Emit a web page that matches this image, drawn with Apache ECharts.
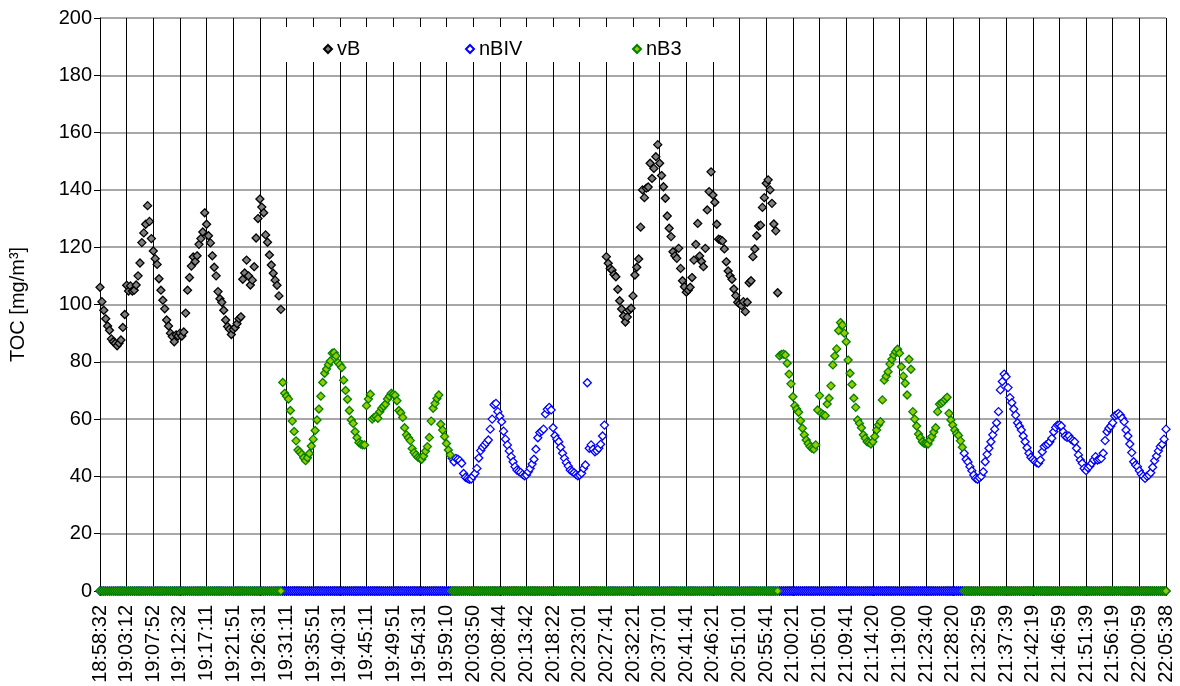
<!DOCTYPE html>
<html>
<head>
<meta charset="utf-8">
<script src="https://cdn.jsdelivr.net/npm/echarts@6/dist/echarts.min.js"></script>
<style>
    html, body { margin: 0; padding: 0; background: #fff; }
    #container { width: 1180px; height: 686px; }
</style>
</head>
<body>
<div id="container"></div>
<script type="text/javascript">
    // sample index 0..560, one label every 14 samples
    var tickLabels = ['18:58:32', '19:03:12', '19:07:52', '19:12:32', '19:17:11', '19:21:51', '19:26:31',
        '19:31:11', '19:35:51', '19:40:31', '19:45:11', '19:49:51', '19:54:31', '19:59:10',
        '20:03:50', '20:08:44', '20:13:42', '20:18:22', '20:23:01', '20:27:41', '20:32:21',
        '20:37:01', '20:41:41', '20:46:21', '20:51:01', '20:55:41', '21:00:21', '21:05:01',
        '21:09:41', '21:14:20', '21:19:00', '21:23:40', '21:28:20', '21:32:59', '21:37:39',
        '21:42:19', '21:46:59', '21:51:39', '21:56:19', '22:00:59', '22:05:38'];
    var lastSample = 560;

    // measured runs (start sample, values); outside its runs a series reads 0
    var vB_1 = [106, 101, 98, 95, 92.5, 91, 88, 87, 86.5, 85.6, 86.5, 87.6, 92, 96.5, 106.7, 104.7, 106.5, 104.7, 105, 106.8,
        110, 114.5, 121.6, 125, 128, 134.5, 129, 123, 118.7, 116, 114, 109, 105, 101.5, 98.5, 94.6, 92.5, 90, 88.8, 87,
        89.4, 89, 90, 89, 90.4, 97, 105, 109.4, 113.4, 116.6, 115, 117, 121, 123, 125.3, 132, 128, 124, 121.5, 117,
        113, 110, 104.5, 102, 100.8, 98, 94.6, 92.3, 91.4, 89.5, 91.3, 92, 93.3, 95, 95.7, 108.8, 111, 115.5, 110, 106.8,
        108.5, 113.2, 123.2, 130, 136.8, 134, 132, 124.3, 121.7, 117.3, 113.8, 110.9, 108.5, 106.7, 103, 98.3];
    var nB3_1 = [72.8, 69, 68, 67, 63, 59.3, 55.7, 52.4, 49.2, 48.5, 47.7, 46.5, 45.5, 46.5, 48, 50.6, 53, 56, 59.7, 63.5,
        68, 72.8, 76, 77.5, 79, 80.3, 83, 83.2, 82, 79.7, 79, 78, 73.6, 70, 66.9, 63, 59.7, 58.5, 55.6, 53.5,
        51.8, 51.3, 51, 51, 64.7, 67, 68.7, 60, 60.6, 61, 60.3, 62.6, 63.8, 64.5, 65.3, 67, 68, 69, 68.7, 68.3,
        66.4, 63, 62.2, 60.6, 57, 54.5, 53.5, 52.5, 49.7, 48.3, 47.5, 46.7, 46.3, 46, 47.1, 48.8, 50.4, 53.6, 59.3, 63.8,
        65.5, 67.2, 68.4, 58.2, 56.2, 53.9, 51.5, 49.2, 47.5];
    var nBIV_1 = [46.3, 45.1, 46.3, 46, 45.5, 44.6, 41, 39.7, 39.3, 39, 39.1, 40.1, 41, 42.8, 46.4, 49, 50.2, 51, 51.8, 52.7,
        56.5, 60, 65, 65.5, 62.6, 61, 59.1, 55.8, 53, 51, 48.9, 46.9, 45.1, 43.4, 42.2, 41.8, 41.4, 40.7, 40.2, 40.5,
        41.6, 42.8, 44.3, 46, 49.5, 53.5, 55.3, 55.8, 56.5, 61.8, 63.4, 64.1, 63.2, 57, 54.2, 53, 52.1, 50.2, 48.1, 46.3,
        44.8, 43.6, 42.2, 41.8, 41.3, 40.7, 40.2, 40.5, 41.1, 42.8, 44, 72.7, 49.8, 51, 49.5, 48.6, 49, 49.8, 51.2, 54.1,
        57.9];
    var vB_2 = [116.7, 114.4, 112.6, 112, 110.5, 109.7, 105.3, 101.3, 98.4, 96, 93.9, 95.6, 98, 98.7, 103, 110.3, 113, 115.9, 127, 140,
        137.3, 140.6, 141, 149.3, 144, 147.5, 151.6, 155.8, 149.3, 145, 141.1, 137.1, 130.9, 126.6, 123.7, 118.4, 117, 116.1, 119.6, 112.6,
        108.3, 106.2, 104.3, 105, 106, 109.4, 115.5, 121, 128.3, 116.9, 115, 113.2, 119.6, 133, 139.4, 146.3, 138.2, 135.7, 128, 122.8,
        122.5, 122.2, 119.4, 114.9, 111.7, 110, 108.8, 105.4, 103.1, 100.8, 100.2, 99.6, 101, 97.5, 100.8, 107.6, 108.3, 116.7, 119.4, 124,
        127.4, 127.7, 133.9, 137.3, 142.3, 143.5, 140, 135.3, 128.1, 125.7, 104.1];
    var nB3_2 = [82.1, 82.6, 82.7, 82.4, 79.5, 75.7, 72.3, 67.8, 64.7, 63.5, 62.4, 59.4, 56.8, 54.5, 52.7, 51.5, 50.4, 49.8, 49.5, 51,
        63.2, 68.2, 62, 61.5, 61.2, 65.3, 67.3, 71.6, 78.9, 82, 84.5, 90.9, 93.7, 92.8, 90, 87, 80.6, 76, 72.1, 67.3,
        64.1, 59.7, 58.5, 57, 54.5, 53.3, 52.1, 51.8, 51.3, 52.1, 53.9, 56.2, 58, 59.1, 66.7, 73.6, 75, 76.5, 79.2, 80.9,
        82.4, 83.5, 84.4, 83, 78.3, 75, 72.5, 68.4, 80.9, 77.4, 62.6, 60, 57.6, 54.8, 53.5, 52.1, 51.5, 51.4, 51.3, 52.7,
        53.9, 55.5, 57, 62.6, 65.2, 65.6, 66.1, 66.9, 67.6, 62, 59.7, 57.9, 56.2, 55, 54.3, 52.4, 50.2];
    var nBIV_2 = [48.1, 46, 45, 43.4, 42, 40.5, 39.3, 39, 39.5, 40.1, 41.6, 45.1, 47.7, 49.8, 52.1, 54.5, 56.5, 58.7, 62.6, 70.2,
        73.1, 75.7, 74.8, 71, 67.5, 65.7, 63.5, 61.4, 58.7, 57.5, 56.2, 54.1, 52.1, 50, 48.1, 46.7, 46, 45.4, 44.8, 44.6,
        45.7, 48.6, 50.4, 51, 51.3, 52.1, 53.3, 55.6, 57.1, 57.9, 58, 57.6, 55.6, 54.1, 53.6, 54.1, 53, 52.5, 52.1, 49.8,
        47.5, 45.7, 44.6, 42.8, 42, 43, 43.6, 44.6, 45.7, 46.9, 45.7, 46, 46.3, 48.1, 52.5, 55.6, 56.8, 57.6, 58.7, 61.1,
        61.5, 62, 61.4, 60.3, 59.1, 56.2, 54.1, 51.3, 48.3, 45.1, 44, 43.4, 42, 40.8, 40.1, 39.3, 40.1, 40.5, 41.3, 43.2,
        45.5, 47.1, 48.9, 50.4, 51.2, 53, 56.5];

    var vBRuns = [[0, vB_1], [266, vB_2]];
    var nBIVRuns = [[185, nBIV_1], [454, nBIV_2]];
    var nB3Runs = [[96, nB3_1], [357, nB3_2]];

    function buildSeries(runs) {
        var out = [];
        for (var i = 0; i <= lastSample; i++) {
            out.push([i, 0]);
        }
        runs.forEach(function (r) {
            r[1].forEach(function (v, k) {
                out[r[0] + k][1] = v;
            });
        });
        return out;
    }

    var font = 'Liberation Sans, Arial, sans-serif';
    var legendText = { color: '#000', fontSize: 20, fontFamily: font };
    function legendAt(name, left) {
        return {
            top: 34,
            left: left,
            itemWidth: 8,
            itemHeight: 8,
            z: 6,
            textStyle: legendText,
            data: [{ name: name, icon: 'diamond' }]
        };
    }

    var myChart = echarts.init(document.getElementById('container'));
    var option = {
        backgroundColor: '#fff',
        animation: false,
        grid: { left: 100, right: 14, top: 18, bottom: 95 },
        legend: [legendAt('vB', 318), legendAt('nBIV', 460), legendAt('nB3', 627)],
        graphic: [{
            type: 'rect',
            left: 284,
            top: 27,
            z: 5,
            shape: { width: 432, height: 35 },
            style: { fill: '#fff' }
        }],
        xAxis: {
            type: 'value',
            min: 0,
            max: lastSample,
            interval: 14,
            axisLine: { show: true, onZero: false, lineStyle: { color: '#000', width: 1 } },
            axisTick: { show: true, length: 5, lineStyle: { color: '#000' } },
            splitLine: { show: true, lineStyle: { color: '#000', width: 1 } },
            axisLabel: {
                rotate: 90,
                margin: 14,
                color: '#000',
                fontSize: 20,
                fontFamily: font,
                formatter: function (v) {
                    return tickLabels[Math.round(v / 14)];
                }
            }
        },
        yAxis: {
            type: 'value',
            min: 0,
            max: 200,
            interval: 20,
            name: 'TOC [mg/m³]',
            nameLocation: 'middle',
            nameGap: 72,
            nameTextStyle: { color: '#000', fontSize: 20, fontFamily: font },
            axisLine: { show: true, lineStyle: { color: '#000', width: 1 } },
            axisTick: { show: true, length: 6, lineStyle: { color: '#000' } },
            splitLine: { show: true, lineStyle: { color: '#8a8a8a', width: 1.5 } },
            axisLabel: { margin: 8, color: '#000', fontSize: 20, fontFamily: font }
        },
        series: [{
            name: 'vB',
            type: 'scatter',
            symbol: 'diamond',
            symbolSize: 8,
            z: 2,
            itemStyle: { color: '#808080', borderColor: '#000', borderWidth: 1.3, opacity: 1 },
            data: buildSeries(vBRuns)
        }, {
            name: 'nBIV',
            type: 'scatter',
            symbol: 'diamond',
            symbolSize: 8,
            z: 3,
            itemStyle: { color: '#fff', borderColor: '#0000ff', borderWidth: 1.3, opacity: 1 },
            data: buildSeries(nBIVRuns)
        }, {
            name: 'nB3',
            type: 'scatter',
            symbol: 'diamond',
            symbolSize: 8,
            z: 4,
            itemStyle: { color: '#99cc00', borderColor: '#008000', borderWidth: 1.3, opacity: 1 },
            data: buildSeries(nB3Runs)
        }]
    };
    myChart.setOption(option);
</script>
</body>
</html>
